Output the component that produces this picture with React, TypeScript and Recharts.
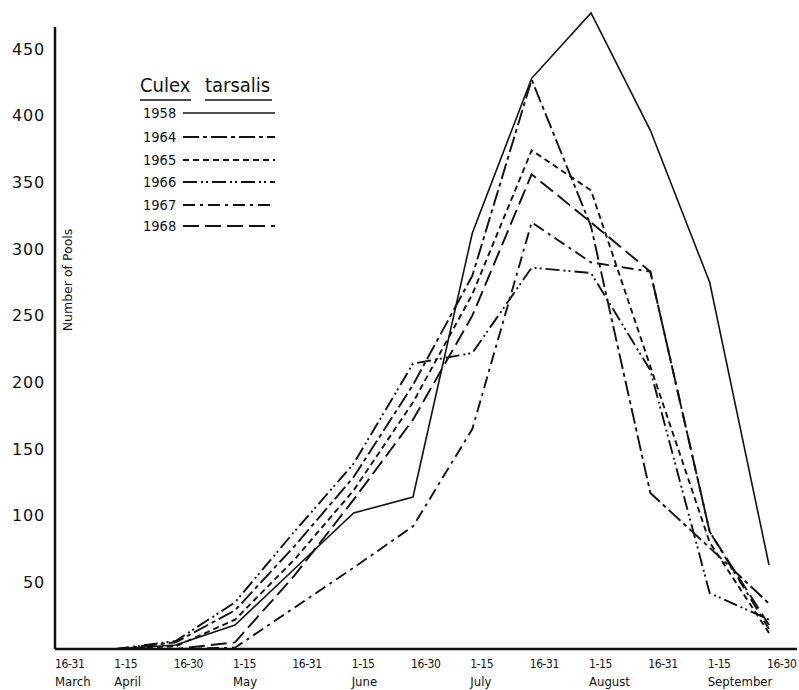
import React from 'react'
import { LineChart, Line, XAxis, YAxis, Legend } from 'recharts'

// half-month periods, March through September
const slots = ['Mar 16-31', 'Apr 1-15', 'Apr 16-30', 'May 1-15', 'May 16-31', 'Jun 1-15', 'Jun 16-30', 'Jul 1-15', 'Jul 16-31', 'Aug 1-15', 'Aug 16-31', 'Sep 1-15', 'Sep 16-30']
const periods = ['16-31', '1-15', '16-30', '1-15', '16-31', '1-15', '16-30', '1-15', '16-31', '1-15', '16-31', '1-15', '16-30']
const months = ['March', 'April', '', 'May', '', 'June', '', 'July', '', 'August', '', 'September', '']
const yTicks = [50, 100, 150, 200, 250, 300, 350, 400, 450]

// number of positive pools per period
const pools1958 = [0, 0, 3, 18, 60, 102, 114, 312, 428, 477, 389, 275, 63]
const pools1964 = [0, 0, 5, 29, 77, 129, 198, 280, 427, 317, 117, 76, 34]
const pools1965 = [0, 0, 2, 22, 67, 119, 185, 266, 374, 344, 212, 80, 12]
const pools1966 = [0, 0, 6, 35, 88, 139, 214, 222, 286, 282, 209, 42, 22]
const pools1967 = [0, 0, 0, 1, 31, 61, 92, 165, 320, 290, 283, 88, 15]
const pools1968 = [0, 0, 0, 5, 55, 112, 172, 250, 356, 320, 283, 88, 18]

const series = [
  { year: '1958', values: pools1958, dash: undefined, width: 1.6 },
  { year: '1964', values: pools1964, dash: '16 4 4 4', width: 1.9 },
  { year: '1965', values: pools1965, dash: '6 4', width: 1.9 },
  { year: '1966', values: pools1966, dash: '14 4 2 3 2 4', width: 1.9 },
  { year: '1967', values: pools1967, dash: '12 5 3 5', width: 1.9 },
  { year: '1968', values: pools1968, dash: '16 6', width: 1.9 },
]

const data = slots.map((slot, i) => {
  const row: Record<string, string | number> = { slot }
  series.forEach((s) => {
    row[s.year] = s.values[i]
  })
  return row
})

const font = '"DejaVu Sans Condensed", "DejaVu Sans", sans-serif'
const ink = '#111'

function PeriodTick(props: any) {
  const { x, payload } = props
  const i = payload.index
  return (
    <g transform={`translate(${x - 2},649)`}>
      <text x={0} y={19} textAnchor="start" fontFamily={font} fontSize={12} letterSpacing={-0.4} fill={ink}>
        {periods[i]}
      </text>
      {months[i] && (
        <text x={0} y={37} textAnchor="start" fontFamily={font} fontSize={13} fill={ink}>
          {months[i]}
        </text>
      )}
    </g>
  )
}

function AxisTitle() {
  return (
    <text
      x={72}
      y={280}
      transform="rotate(-90, 72, 280)"
      textAnchor="middle"
      fontFamily='"DejaVu Sans", sans-serif'
      fontSize={12.5}
      fill={ink}
    >
      Number of Pools
    </text>
  )
}

function YearKey() {
  const rows = [43, 67, 90, 112, 135, 156]
  return (
    <svg width={160} height={170}>
      <text x={10} y={22} fontFamily={font} fontSize={20} fill={ink}>
        Culex
      </text>
      <line x1={10} y1={30} x2={61} y2={30} stroke={ink} strokeWidth={1.5} />
      <text x={75} y={22} fontFamily={font} fontSize={20} fill={ink}>
        tarsalis
      </text>
      <line x1={75} y1={30} x2={142} y2={30} stroke={ink} strokeWidth={1.5} />
      {series.map((s, i) => (
        <g key={s.year}>
          <text x={13} y={rows[i] + 5} fontFamily={font} fontSize={14.5} fill={ink}>
            {s.year}
          </text>
          <line
            x1={53}
            y1={rows[i]}
            x2={145}
            y2={rows[i]}
            stroke={ink}
            strokeWidth={s.width}
            strokeDasharray={s.dash}
          />
        </g>
      ))}
    </svg>
  )
}

export default function App() {
  return (
    <div style={{ position: 'absolute', left: 0, top: 0, background: '#fff' }}>
      <LineChart width={799} height={690} data={data} margin={{ top: 9, right: 2, bottom: 0, left: 0 }}>
        <XAxis
          dataKey="slot"
          height={41}
          padding={{ left: 2, right: 28 }}
          interval={0}
          tickLine={false}
          axisLine={{ stroke: ink, strokeWidth: 2.5 }}
          tick={<PeriodTick />}
        />
        <YAxis
          width={55}
          domain={[0, 480]}
          ticks={yTicks}
          tickLine={false}
          tickSize={0}
          tickMargin={10}
          axisLine={{ stroke: ink, strokeWidth: 2.5, strokeDasharray: '0 18 1000' }}
          tick={{ fill: ink, fontSize: 16, letterSpacing: 0.8, fontFamily: '"DejaVu Sans", sans-serif' }}
          label={<AxisTitle />}
        />
        <Legend
          layout="vertical"
          align="center"
          verticalAlign="middle"
          wrapperStyle={{ position: 'absolute', left: 130, top: 70, width: 160, height: 170 }}
          content={() => <YearKey />}
        />
        {series.map((s) => (
          <Line
            key={s.year}
            type="linear"
            dataKey={s.year}
            stroke={ink}
            strokeWidth={s.width}
            strokeDasharray={s.dash}
            dot={false}
            activeDot={false}
            isAnimationActive={false}
          />
        ))}
      </LineChart>
    </div>
  )
}
